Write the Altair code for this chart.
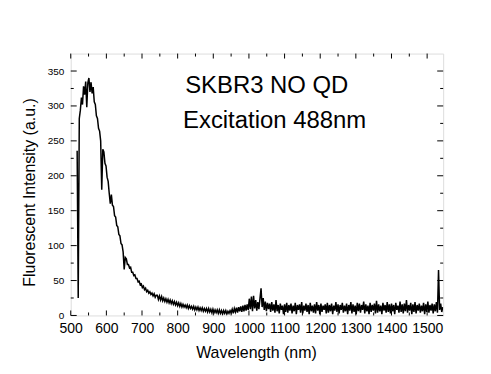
import altair as alt
import pandas as pd

# Spectrum values (a.u.), sampled every 3 nm, segment start wavelengths given
seg1_start = 518
seg1 = [236, 25, 282, 294, 312, 302, 328, 316, 335, 298,
        333, 340, 320, 334, 318, 327, 306, 302, 286, 282,
        268, 264, 250, 180, 238, 234, 218, 214, 198, 192,
        175, 160, 173, 158, 156, 143, 141, 129, 127, 116,
        114, 103, 101, 91, 66, 83, 81, 73, 73, 68,
        69, 62, 62, 57, 58, 53, 53, 48, 49, 44,
        45, 40, 42, 37, 39, 34, 36, 32, 34, 30,
        32, 28, 31, 26, 29]
seg2_start = 743
seg2 = [29, 23, 28, 22, 27, 21, 25, 20, 24, 19,
        23, 18, 22, 17, 21, 16, 20, 15, 19, 14,
        18, 13, 17, 12, 16, 12, 15, 11, 15, 10,
        14, 10, 13, 9, 13, 8, 12, 8, 12, 7,
        11, 7, 11, 6, 10, 6, 10, 5, 10, 5,
        9, 4, 9, 4, 8, 4, 8, 3, 8, 3,
        7, 2, 7, 3, 7, 2, 6, 3, 7]
seg3_start = 950
seg3 = [4, 9, 3, 10, 5, 11, 4, 12, 6, 13,
        5, 14, 6, 15, 7, 16, 8, 24, 9, 27,
        6, 28, 10, 22, 7, 19, 9, 24, 39, 12,
        25, 8, 20, 6, 18, 9, 17, 5, 19, 7,
        16, 4, 22, 6, 15, 3, 17, 8, 14, 2,
        16, 5, 18, 4, 15, 7, 17, 3, 14, 6,
        18, 2, 15, 8, 16, 4, 19, 3, 14, 7,
        17, 5, 15, 2, 18, 6, 14, 4, 16, 3,
        19, 7, 15, 2, 17, 5, 14, 8, 16, 3,
        18, 4, 15, 6, 17, 2, 14, 7, 19, 5,
        16, 3, 15, 8, 18, 4, 14, 6, 17, 2,
        15, 7, 19, 3, 16, 5, 14, 2, 18, 6,
        17, 4, 15, 8, 20, 3, 16, 6, 14, 2,
        18, 5, 15, 7, 17, 3, 21, 4, 16, 6,
        14, 2, 18, 7, 15, 4, 19, 5, 16, 3,
        17, 6, 15, 2, 18, 8, 14, 4, 20, 5,
        16, 3, 17, 6, 22, 4, 15, 7, 18, 2,
        16, 5, 19, 3, 15, 7, 17, 4, 14, 6,
        18, 2, 16, 5, 20, 4, 15, 7, 17, 3,
        16, 6, 19, 4, 65, 8, 17, 5, 12]

x_labels = [500, 600, 700, 800, 900, 1000, 1100, 1200, 1300, 1400, 1500]
x_minor = [550, 650, 750, 850, 950, 1050, 1150, 1250, 1350, 1450]
y_labels = [0, 50, 100, 150, 200, 250, 300, 350]
y_minor = [25, 75, 125, 175, 225, 275, 325]

title1 = "SKBR3 NO QD"
title2 = "Excitation 488nm"

rows = []
for start, seg in [(seg1_start, seg1), (seg2_start, seg2), (seg3_start, seg3)]:
    for i, v in enumerate(seg):
        rows.append({"wl": start + 3 * i, "val": v})
df = pd.DataFrame(rows)

W, H = 374, 263
FONT = "Liberation Sans"
xs = alt.Scale(domain=[500, 1545], nice=False, zero=False)
ys = alt.Scale(domain=[0, 375], nice=False, zero=False)

x_axis = alt.Axis(
    values=x_labels, ticks=False, domain=False, grid=False, format="d",
    labelOverlap=False, labelFlush=False,
    labelFont=FONT, labelFontSize=14, labelColor="black", labelPadding=6,
    title="Wavelength (nm)", titleFont=FONT, titleFontSize=16,
    titleFontWeight="normal", titleColor="black",
    titleBaseline="alphabetic", titleY=42, titleX=186)
y_axis = alt.Axis(
    values=y_labels, ticks=False, domain=False, grid=False,
    labelOverlap=False, labelFlush=False,
    labelFont=FONT, labelFontSize=10, labelColor="black", labelPadding=7,
    title="Fluorescent Intensity (a.u.)", titleFont=FONT, titleFontSize=16,
    titleFontWeight="normal", titleColor="black", titleAngle=270,
    titleBaseline="middle", titleX=-41, titleY=139)

line = alt.Chart(df).mark_line(color="black", strokeWidth=1.5, clip=True).encode(
    x=alt.X("wl:Q", scale=xs, axis=x_axis, title="Wavelength (nm)"),
    y=alt.Y("val:Q", scale=ys, axis=y_axis, title="Fluorescent Intensity (a.u.)"),
)

def xticks(vals, length, top):
    d = pd.DataFrame({"v": vals})
    y1 = 0 if top else H
    y2 = length if top else H - length
    return alt.Chart(d).mark_rule(color="black", strokeWidth=1).encode(
        x=alt.X("v:Q", scale=xs, axis=x_axis, title="Wavelength (nm)"),
        y=alt.value(y1), y2=alt.value(y2))

def yticks(vals, length, right):
    d = pd.DataFrame({"v": vals})
    x1 = W if right else 0
    x2 = W - length if right else length
    return alt.Chart(d).mark_rule(color="black", strokeWidth=1).encode(
        y=alt.Y("v:Q", scale=ys, axis=y_axis, title="Fluorescent Intensity (a.u.)"),
        x=alt.value(x1), x2=alt.value(x2))

ticks = [
    xticks(x_labels, 5, False), xticks(x_minor, 3, False),
    xticks(x_labels, 5, True), xticks(x_minor, 3, True),
    yticks(y_labels, 6, False), yticks(y_minor, 3, False),
    yticks(y_labels, 6, True), yticks(y_minor, 3, True),
]

ann = pd.DataFrame({"x": [1050, 1072], "y": [318, 269], "t": [title1, title2]})
text = alt.Chart(ann).mark_text(
    font=FONT, fontSize=24, color="black", align="center", baseline="alphabetic"
).encode(
    x=alt.X("x:Q", scale=xs, axis=x_axis, title="Wavelength (nm)"),
    y=alt.Y("y:Q", scale=ys, axis=y_axis, title="Fluorescent Intensity (a.u.)"),
    text="t:N")

chart = alt.layer(line, *ticks, text).properties(
    width=W, height=H, autosize="none",
    padding={"left": 63, "top": 45, "right": 40, "bottom": 50},
).configure_view(stroke="black", strokeWidth=1).configure(background="white")

chart.save("out.html", embed_options={"renderer": "svg", "actions": False})
